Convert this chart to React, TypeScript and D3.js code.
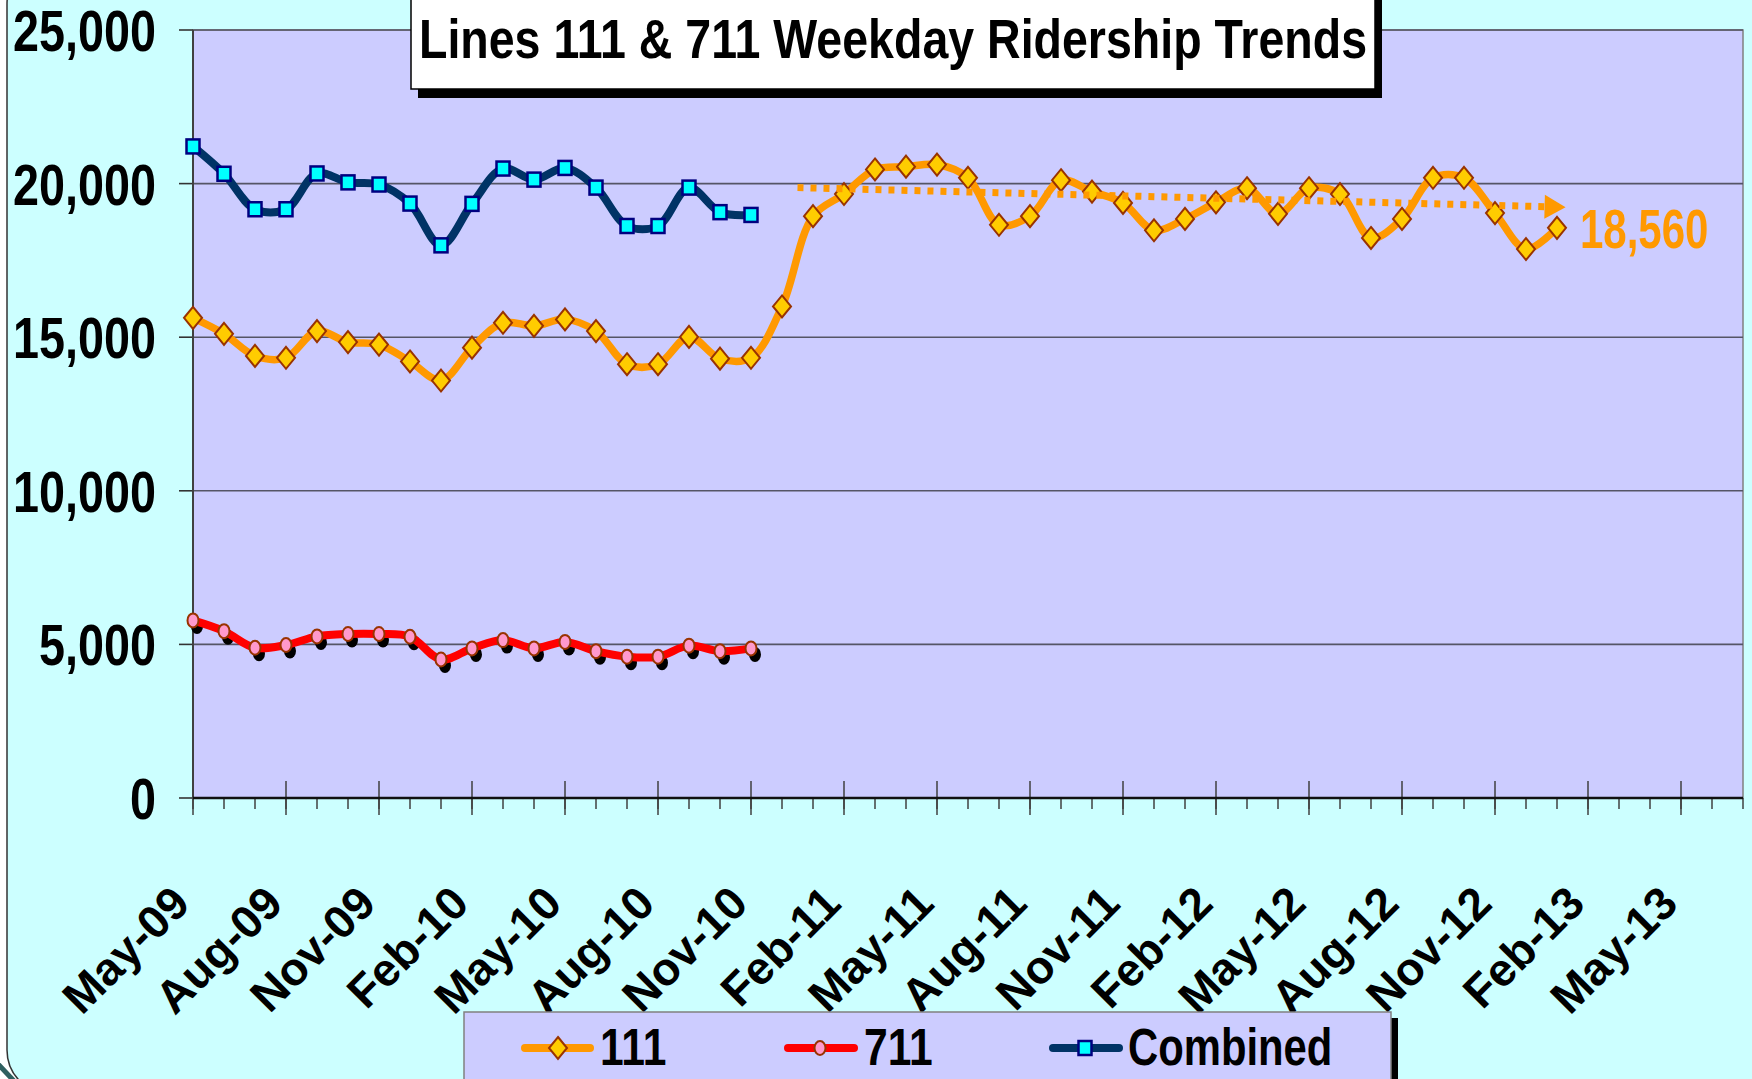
import React from 'react';
import * as d3 from 'd3';

// monthly weekday ridership, first point = May-09
const line111 = [
  15630, 15110, 14390, 14330, 15200, 14840, 14760, 14210, 13590, 14660,
  15470, 15370, 15580, 15200, 14120, 14120, 15010, 14300, 14330, 16000,
  18940, 19660, 20460, 20550, 20620, 20190, 18660, 18940, 20110, 19740,
  19370, 18480, 18850, 19390, 19850, 19015, 19850, 19660, 18230, 18850,
  20190, 20190, 19040, 17870, 18560,
];
const line711 = [
  5780, 5430, 4890, 4980, 5260, 5340, 5340, 5250, 4510, 4870,
  5140, 4870, 5080, 4780, 4600, 4600, 4960, 4780, 4870,
];
const combined = [
  21210, 20320, 19165, 19165, 20330, 20040, 19970, 19350, 17990, 19340,
  20490, 20130, 20510, 19870, 18620, 18620, 19870, 19070, 18980,
];

const monthLabels = [
  'May-09', 'Aug-09', 'Nov-09', 'Feb-10', 'May-10', 'Aug-10', 'Nov-10', 'Feb-11', 'May-11',
  'Aug-11', 'Nov-11', 'Feb-12', 'May-12', 'Aug-12', 'Nov-12', 'Feb-13', 'May-13',
];
const yTicks = [0, 5000, 10000, 15000, 20000, 25000];
const monthCount = 50; // May-09 .. Jul-13

// hand drawn trend arrow (month index, riders)
const trendFrom = { m: 19.5, v: 19870 };
const trendTo = { m: 43.6, v: 19250 };
const latestLabel = '18,560';

const W = 1752;
const H = 1079;
const ORANGE = '#FF9900';
const FONT = '"Liberation Sans", Arial, sans-serif';

const x = d3.scaleLinear().domain([0, monthCount]).range([193, 1743]);
const y = d3.scaleLinear().domain([0, 25000]).range([798, 30]);

const smooth = (vals: number[]) =>
  d3.line<number>()
    .x((_, i) => x(i))
    .y(d => y(d))
    .curve(d3.curveCatmullRom.alpha(0.5))(vals) || '';

// condensed bold text (Arial Narrow look)
const Narrow = ({ tx, ty, size, anchor = 'start', fill = '#000', sx = 0.82, children }: any) => (
  <text
    transform={`translate(${tx},${ty}) scale(${sx},1)`}
    textAnchor={anchor}
    fontFamily={FONT}
    fontWeight="bold"
    fontSize={size}
    fill={fill}
  >
    {children}
  </text>
);

const Diamond = ({ cx, cy }: { cx: number; cy: number }) => (
  <path
    d={`M${cx},${cy - 11}L${cx + 9},${cy}L${cx},${cy + 11}L${cx - 9},${cy}Z`}
    fill="#FFCC00"
    stroke="#993300"
    strokeWidth={2}
  />
);
const Square = ({ cx, cy }: { cx: number; cy: number }) => (
  <rect x={cx - 6.5} y={cy - 7} width={13} height={14} fill="#00FFFF" stroke="#000080" strokeWidth={2.5} />
);
const Dot = ({ cx, cy }: { cx: number; cy: number }) => (
  <ellipse cx={cx} cy={cy} rx={5.5} ry={7} fill="#FF99CC" stroke="#993300" strokeWidth={2} />
);

const App: React.FC = () => {
  const [x0, x1] = x.range();
  const [yb, yt] = y.range();
  const minor = d3.range(0, monthCount + 1);
  const major = minor.filter(m => m % 3 === 0);

  // arrow geometry
  const ax0 = x(trendFrom.m), ay0 = y(trendFrom.v);
  const ax1 = x(trendTo.m), ay1 = y(trendTo.v);
  const ang = Math.atan2(ay1 - ay0, ax1 - ax0);
  const ux = Math.cos(ang), uy = Math.sin(ang);
  const head = `M${ax1 - uy * 12},${ay1 + ux * 12}L${ax1 + ux * 21},${ay1 + uy * 21}L${ax1 + uy * 12},${ay1 - ux * 12}Z`;

  const last = line111.length - 1;

  return (
    <div style={{ position: 'absolute', left: 0, top: 0 }}>
      <svg width={W} height={H} style={{ display: 'block', background: '#fff' }}>
        {/* slide panel */}
        <rect x={7} y={-40} width={W + 60} height={1134} rx={44} fill="#CCFFFF" stroke="#333" strokeWidth={1.5} />
        <line x1={-2} y1={1064} x2={14} y2={1081} stroke="#2F5F5F" strokeWidth={5} />

        {/* plot area */}
        <rect x={x0} y={yt} width={x1 - x0} height={yb - yt} fill="#CCCCFF" stroke="#808080" strokeWidth={1.5} />
        {yTicks.map(t => (
          <g key={t}>
            {t > 0 && <line x1={x0} x2={x1} y1={y(t)} y2={y(t)} stroke="#555566" strokeWidth={1.6} />}
            <line x1={179} x2={x0} y1={y(t)} y2={y(t)} stroke="#333" strokeWidth={1.6} />
            <Narrow tx={156} ty={y(t) + 21} size={57} anchor="end">{d3.format(',')(t)}</Narrow>
          </g>
        ))}
        <line x1={x0} x2={x0} y1={yt} y2={yb} stroke="#404040" strokeWidth={2} />

        {/* x axis */}
        {minor.map(m => (
          <line key={'mi' + m} x1={x(m)} x2={x(m)} y1={yb} y2={yb + 11} stroke="#404040" strokeWidth={1.5} />
        ))}
        {major.map(m => (
          <line key={'ma' + m} x1={x(m)} x2={x(m)} y1={yb - 17} y2={yb + 17} stroke="#404040" strokeWidth={1.5} />
        ))}
        <line x1={x0} x2={x1} y1={yb} y2={yb} stroke="#111" strokeWidth={2.5} />
        {monthLabels.map((lab, i) => (
          <text
            key={lab}
            transform={`translate(${x(i * 3) - 1},${yb + 108}) rotate(-45)`}
            textAnchor="end"
            fontFamily={FONT}
            fontWeight="bold"
            fontSize={46}
            fill="#000"
          >
            {lab}
          </text>
        ))}

        {/* series 111 */}
        <path d={smooth(line111)} fill="none" stroke={ORANGE} strokeWidth={7.5} strokeLinejoin="round" />
        {line111.map((v, i) => <Diamond key={'a' + i} cx={x(i)} cy={y(v)} />)}

        {/* series 711 with drop shadow */}
        {line711.map((v, i) => (
          <ellipse key={'s' + i} cx={x(i) + 4} cy={y(v) + 6} rx={6} ry={7.5} fill="#000" />
        ))}
        <path d={smooth(line711)} fill="none" stroke="#FF0000" strokeWidth={8} strokeLinejoin="round" />
        {line711.map((v, i) => <Dot key={'b' + i} cx={x(i)} cy={y(v)} />)}

        {/* combined */}
        <path d={smooth(combined)} fill="none" stroke="#003366" strokeWidth={8} strokeLinejoin="round" />
        {combined.map((v, i) => <Square key={'c' + i} cx={x(i)} cy={y(v)} />)}

        {/* trend arrow + latest value */}
        <line x1={ax0} y1={ay0} x2={ax1} y2={ay1} stroke={ORANGE} strokeWidth={7} strokeDasharray="6 7" />
        <path d={head} fill={ORANGE} />
        <Narrow tx={x(last) + 23} ty={y(line111[last]) + 20} size={56} sx={0.75} fill={ORANGE}>{latestLabel}</Narrow>

        {/* title */}
        <rect x={418} y={-5} width={964} height={103} fill="#000" />
        <rect x={411} y={-12} width={964} height={101} fill="#fff" stroke="#000" strokeWidth={1.5} />
        <text
          x={419}
          y={58}
          textLength={948}
          lengthAdjust="spacingAndGlyphs"
          fontFamily={FONT}
          fontWeight="bold"
          fontSize={55}
          fill="#000"
        >
          Lines 111 &amp; 711 Weekday Ridership Trends
        </text>

        {/* legend */}
        <rect x={1391} y={1018} width={7} height={80} fill="#000" />
        <rect x={464} y={1012} width={927} height={90} fill="#CCCCFF" stroke="#808080" strokeWidth={1.5} />
        <line x1={525} x2={590} y1={1048} y2={1048} stroke={ORANGE} strokeWidth={8} strokeLinecap="round" />
        <Diamond cx={558} cy={1048} />
        <Narrow tx={600} ty={1065} size={52}>111</Narrow>
        <line x1={788} x2={854} y1={1048} y2={1048} stroke="#FF0000" strokeWidth={8} strokeLinecap="round" />
        <Dot cx={820} cy={1048} />
        <Narrow tx={864} ty={1065} size={52}>711</Narrow>
        <line x1={1053} x2={1119} y1={1048} y2={1048} stroke="#003366" strokeWidth={8} strokeLinecap="round" />
        <Square cx={1085} cy={1048} />
        <Narrow tx={1128} ty={1065} size={51}>Combined</Narrow>
      </svg>
    </div>
  );
};

export default App;
